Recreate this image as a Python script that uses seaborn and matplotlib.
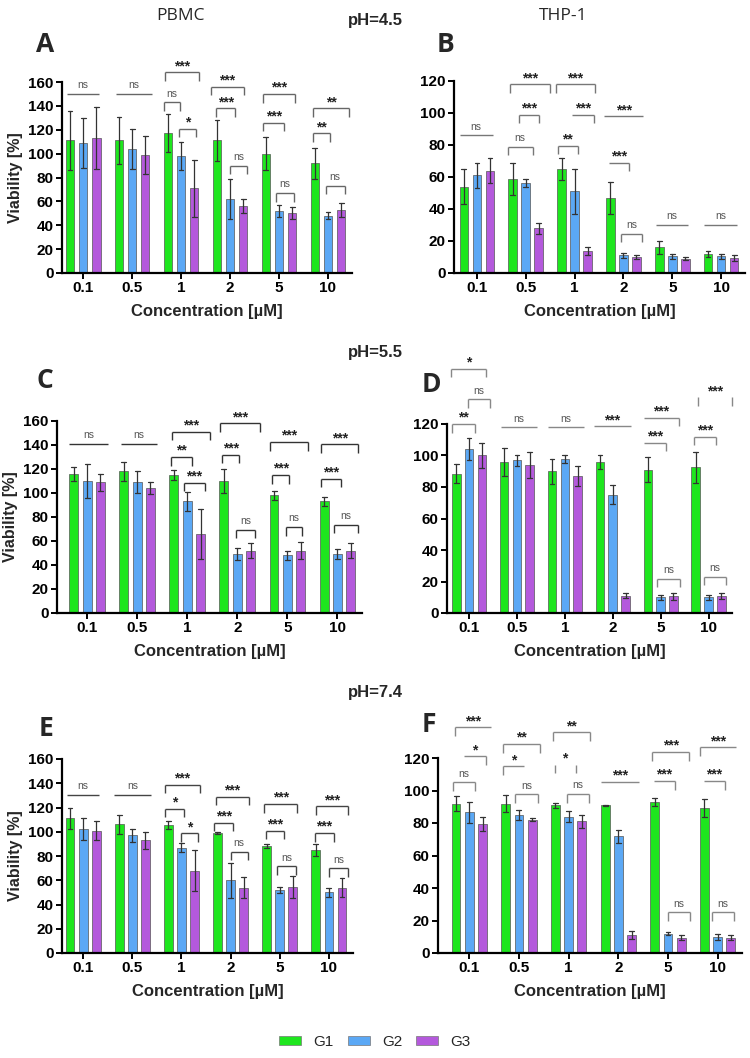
import numpy as np
import pandas as pd
import matplotlib
matplotlib.use('Agg')
import matplotlib.pyplot as plt
from matplotlib.patches import Patch
import seaborn as sns

# ================= 配置 =================
sns.set_style("ticks")
plt.rcParams['font.family'] = ['Liberation Sans', 'DejaVu Sans']
plt.rcParams['axes.unicode_minus'] = False

W, H = 750, 1058

conc_labels = ['0.1', '0.5', '1', '2', '5', '10']
groups = ['G1', 'G2', 'G3']
group_colors = ['#1EE61E', '#5BA8F5', '#B459DC']

# ================= 数据 (mean / SD) =================
# A: PBMC pH=4.5
A_g1 = [111, 111, 117, 111, 100, 92]
A_g1_sd = [25, 20, 16, 17, 14, 13]
A_g2 = [109, 104, 98, 62, 52, 48]
A_g2_sd = [21, 17, 12, 17, 5, 3]
A_g3 = [113, 99, 71, 56, 50, 53]
A_g3_sd = [26, 16, 24, 6, 5, 6]

# B: THP-1 pH=4.5
B_g1 = [54, 59, 65, 47, 16, 12]
B_g1_sd = [11, 10, 7, 10, 4, 2]
B_g2 = [61, 56, 51, 11, 10.5, 10.5]
B_g2_sd = [8, 2.5, 14, 1.5, 1.5, 1.5]
B_g3 = [64, 28, 13.5, 10, 9, 9.5]
B_g3_sd = [8, 3.5, 2.5, 1.5, 1, 2]

# C: PBMC pH=5.5
C_g1 = [116, 118, 115, 110, 98, 93]
C_g1_sd = [6, 8, 4, 10, 4, 4]
C_g2 = [110, 109, 93, 49, 48, 49]
C_g2_sd = [14, 9, 8, 5, 4, 4]
C_g3 = [109, 104, 66, 52, 52, 52]
C_g3_sd = [7, 5, 21, 6, 7, 6]

# D: THP-1 pH=5.5
D_g1 = [88.5, 96, 90, 96, 91, 92.5]
D_g1_sd = [6, 9, 8, 4.5, 8, 10]
D_g2 = [104, 97, 97.5, 75, 10, 10]
D_g2_sd = [7, 3.5, 2.5, 6, 1.5, 1.5]
D_g3 = [100, 94, 87, 11, 10.5, 11]
D_g3_sd = [8, 8, 6.5, 1.5, 2, 2]

# E: PBMC pH=7.4
E_g1 = [111, 106, 105.5, 99, 88.5, 85]
E_g1_sd = [9, 8, 3, 0.5, 1.5, 5]
E_g2 = [102, 97, 87, 60, 52, 50]
E_g2_sd = [9, 5.5, 4, 14.5, 2.5, 4]
E_g3 = [101, 93, 68, 54, 54.5, 54]
E_g3_sd = [8, 7, 17, 9, 9, 7.5]

# F: THP-1 pH=7.4
F_g1 = [92, 92, 91, 91, 93, 89]
F_g1_sd = [4.5, 5.5, 1.5, 0.3, 2.5, 5.5]
F_g2 = [86.5, 85, 84, 72, 12, 10]
F_g2_sd = [6.5, 3, 3.5, 4, 1, 2]
F_g3 = [79.5, 82, 81, 11, 9.5, 9.5]
F_g3_sd = [4.5, 1, 4, 2.5, 1.5, 1.5]

# 显著性标注: (类别序号, 左偏移, 右偏移, 高度, 文本, 形状)
# 形状: b=两端竖线, l=左竖线, r=右竖线, f=平线, t=仅竖线
A_sig = [
    (0, -0.32, 0.32, 150, 'ns', 'f'),
    (1, -0.33, 0.41, 150, 'ns', 'f'),
    (2, -0.33, 0.36, 168, '***', 'b'),
    (2, -0.35, -0.03, 143, 'ns', 'b'),
    (2, -0.05, 0.31, 121, '*', 'b'),
    (3, -0.39, 0.28, 156, '***', 'b'),
    (3, -0.29, 0.11, 138, '***', 'b'),
    (3, 0.0, 0.34, 90, 'ns', 'b'),
    (4, -0.32, 0.33, 150, '***', 'b'),
    (4, -0.32, 0.10, 126, '***', 'b'),
    (4, -0.07, 0.31, 67, 'ns', 'b'),
    (5, -0.31, 0.43, 138, '**', 'b'),
    (5, -0.31, 0.05, 117, '**', 'b'),
    (5, -0.05, 0.34, 73, 'ns', 'b'),
]
B_sig = [
    (0, -0.35, 0.32, 86, 'ns', 'f'),
    (1, -0.33, 0.50, 118, '***', 'b'),
    (1, -0.14, 0.27, 99, '***', 'b'),
    (1, -0.37, 0.14, 79, 'ns', 'b'),
    (2, -0.39, 0.42, 118, '***', 'b'),
    (2, -0.05, 0.39, 99, '***', 'r'),
    (2, -0.35, 0.07, 79.5, '**', 'b'),
    (3, -0.39, 0.41, 98, '***', 'f'),
    (3, -0.29, 0.12, 69, '***', 'r'),
    (3, -0.05, 0.39, 24.6, 'ns', 'b'),
    (4, -0.34, 0.33, 30, 'ns', 'f'),
    (5, -0.34, 0.33, 30, 'ns', 'f'),
]
C_sig = [
    (0, -0.37, 0.42, 141, 'ns', 'f'),
    (1, -0.32, 0.40, 141, 'ns', 'f'),
    (2, -0.30, 0.45, 151, '***', 'b'),
    (2, -0.32, 0.10, 130, '**', 'b'),
    (2, -0.07, 0.35, 108.6, '***', 'b'),
    (3, -0.35, 0.45, 158, '***', 'b'),
    (3, -0.30, 0.04, 132, '***', 'b'),
    (3, -0.03, 0.35, 69.4, 'ns', 'b'),
    (4, -0.35, 0.41, 142.5, '***', 'b'),
    (4, -0.31, 0.04, 115, '***', 'b'),
    (4, -0.03, 0.30, 71.7, 'ns', 'b'),
    (5, -0.32, 0.41, 140.5, '***', 'b'),
    (5, -0.32, 0.08, 112, '***', 'b'),
    (5, -0.07, 0.41, 73.6, 'ns', 'b'),
]
D_sig = [
    (0, -0.38, 0.35, 155, '*', 'b'),
    (0, -0.03, 0.44, 135.6, 'ns', 'b'),
    (0, -0.35, 0.12, 120, '**', 'b'),
    (1, -0.33, 0.42, 118, 'ns', 'f'),
    (2, -0.35, 0.40, 118, 'ns', 'f'),
    (3, -0.40, 0.38, 118.6, '***', 'f'),
    (4, -0.35, 0.38, 124, '***', 'r'),
    (4, -0.35, 0.12, 108, '***', 'r'),
    (4, -0.07, 0.40, 21.8, 'ns', 'b'),
    (5, -0.23, 0.50, 137, '***', 't'),
    (5, -0.30, 0.15, 112, '***', 'b'),
    (5, -0.10, 0.36, 22.9, 'ns', 'b'),
]
E_sig = [
    (0, -0.32, 0.32, 130.5, 'ns', 'f'),
    (1, -0.37, 0.38, 130.5, 'ns', 'f'),
    (2, -0.33, 0.37, 138.8, '***', 'b'),
    (2, -0.34, 0.05, 119, '*', 'b'),
    (2, -0.01, 0.33, 98.8, '*', 'b'),
    (3, -0.30, 0.37, 129, '***', 'b'),
    (3, -0.33, 0.05, 107.6, '***', 'b'),
    (3, 0.0, 0.35, 83.6, 'ns', 'b'),
    (4, -0.32, 0.36, 123, '***', 'b'),
    (4, -0.29, 0.08, 101, '***', 'b'),
    (4, -0.05, 0.34, 71.7, 'ns', 'b'),
    (5, -0.27, 0.39, 121, '***', 'b'),
    (5, -0.29, 0.10, 99, '***', 'b'),
    (5, 0.01, 0.39, 70, 'ns', 'b'),
]
F_sig = [
    (0, -0.29, 0.44, 139, '***', 'l'),
    (0, -0.11, 0.33, 121, '*', 'r'),
    (0, -0.32, 0.11, 105, 'ns', 'b'),
    (1, -0.32, 0.42, 128.6, '**', 'b'),
    (1, -0.32, 0.10, 115, '*', 'l'),
    (1, -0.07, 0.39, 97.7, 'ns', 'b'),
    (2, -0.31, 0.42, 135.8, '**', 'b'),
    (2, -0.28, 0.14, 116, '*', 't'),
    (2, -0.04, 0.41, 98, 'ns', 'b'),
    (3, -0.34, 0.42, 105.5, '***', 'f'),
    (4, -0.32, 0.43, 123.7, '***', 'b'),
    (4, -0.28, 0.14, 106, '***', 'r'),
    (4, 0.0, 0.44, 25, 'ns', 'b'),
    (5, -0.36, 0.36, 126.5, '***', 'l'),
    (5, -0.27, 0.14, 106, '***', 'r'),
    (5, -0.12, 0.32, 25, 'ns', 'b'),
]


def build_df(means, sds):
    # 每根柱子放 mean-SD 与 mean+SD 两个点, 均值即柱高, 极差即误差线
    rows = []
    for g, m_arr, s_arr in zip(groups, means, sds):
        for c, m, s in zip(conc_labels, m_arr, s_arr):
            rows.append((c, g, m - s))
            rows.append((c, g, m + s))
    return pd.DataFrame(rows, columns=['conc', 'group', 'val'])


def px_rect(l, t, r, b):
    return [l / W, 1 - b / H, (r - l) / W, (b - t) / H]


def draw_sig(ax, sig, ymax, line_col):
    h = 0.045 * ymax
    for cat, x1, x2, y, txt, kind in sig:
        xa, xb = cat + x1, cat + x2
        kw = dict(color=line_col, lw=1.0, clip_on=False, solid_capstyle='butt')
        if kind != 't':
            ax.plot([xa, xb], [y, y], **kw)
        if kind in ('b', 'l', 't'):
            ax.plot([xa, xa], [y, y - h], **kw)
        if kind in ('b', 'r', 't'):
            ax.plot([xb, xb], [y, y - h], **kw)
        if txt == 'ns':
            ax.annotate(txt, ((xa + xb) / 2, y), xytext=(0, 4), textcoords='offset points',
                        ha='center', va='baseline', fontsize=7.5, color='#555', annotation_clip=False)
        else:
            ax.annotate(txt, ((xa + xb) / 2, y), xytext=(0, 1.5), textcoords='offset points',
                        ha='center', va='baseline', fontsize=10, fontweight='bold', color='#222',
                        annotation_clip=False)


def add_panel(rect, means, sds, sig, ymax, xleft, ylabel, line_col):
    ax = fig.add_axes(px_rect(*rect))
    df = build_df(means, sds)
    sns.barplot(data=df, x='conc', y='val', hue='group', order=conc_labels, hue_order=groups,
                palette=group_colors, estimator='mean', errorbar=lambda v: (v.min(), v.max()),
                width=0.8, gap=0.33, capsize=0.3,
                err_kws={'color': '#333', 'linewidth': 0.9},
                edgecolor='#555', linewidth=0.5, saturation=1, legend=False, ax=ax)
    ax.set_ylim(0, ymax)
    ax.set_xlim(xleft, 5.49)
    ax.set_yticks(np.arange(0, ymax + 1, 20))
    sns.despine(ax=ax)
    for s in ('left', 'bottom'):
        ax.spines[s].set_linewidth(1.6)
        ax.spines[s].set_color('black')
    ax.tick_params(axis='both', length=4, width=1.4, labelsize=11, pad=2, colors='black')
    for lbl in ax.get_xticklabels() + ax.get_yticklabels():
        lbl.set_fontweight('bold')
    ax.set_xlabel('Concentration [µM]', fontsize=12, fontweight='bold', labelpad=6)
    if ylabel:
        ax.set_ylabel('Viability [%]', fontsize=11.5, fontweight='bold', labelpad=4)
    else:
        ax.set_ylabel('')
    draw_sig(ax, sig, ymax, line_col)
    return ax


fig = plt.figure(figsize=(W / 100, H / 100), dpi=100)

add_panel((62, 82, 352, 273), [A_g1, A_g2, A_g3], [A_g1_sd, A_g2_sd, A_g3_sd], A_sig, 160, -0.43, True, '#666')
add_panel((454, 81, 745, 273), [B_g1, B_g2, B_g3], [B_g1_sd, B_g2_sd, B_g3_sd], B_sig, 120, -0.47, False, '#777')
add_panel((57, 421, 362, 613), [C_g1, C_g2, C_g3], [C_g1_sd, C_g2_sd, C_g3_sd], C_sig, 160, -0.6, True, '#333')
add_panel((447, 424, 732, 613), [D_g1, D_g2, D_g3], [D_g1_sd, D_g2_sd, D_g3_sd], D_sig, 120, -0.46, False, '#888')
add_panel((62, 759, 353, 953), [E_g1, E_g2, E_g3], [E_g1_sd, E_g2_sd, E_g3_sd], E_sig, 160, -0.43, True, '#444')
add_panel((438, 758, 742, 953), [F_g1, F_g2, F_g3], [F_g1_sd, F_g2_sd, F_g3_sd], F_sig, 120, -0.63, False, '#888')

# ================= 文字 =================
def ftext(x, y, s, **kw):
    fig.text(x / W, 1 - y / H, s, ha='center', va='center', **kw)


ftext(180, 16, 'PBMC', fontsize=12.5, family=['Open Sans', 'DejaVu Sans'])
ftext(563, 16, 'THP-1', fontsize=12.5, family=['Open Sans', 'DejaVu Sans'])
ftext(375, 20, 'pH=4.5', fontsize=12, fontweight='bold')
ftext(375, 352, 'pH=5.5', fontsize=12, fontweight='bold')
ftext(375, 692, 'pH=7.4', fontsize=12, fontweight='bold')

for x, y, s in [(45, 44, 'A'), (445, 45, 'B'), (45, 380, 'C'), (431, 385, 'D'), (46, 728, 'E'), (429, 725, 'F')]:
    ftext(x, y, s, fontsize=19, fontweight='bold', family=['Open Sans', 'DejaVu Sans'])

handles = [Patch(facecolor=c, edgecolor='#777', linewidth=0.5, label=g) for g, c in zip(groups, group_colors)]
fig.legend(handles=handles, loc='center', bbox_to_anchor=(0.5, 1 - 1042 / H), ncol=3, frameon=False,
           fontsize=11, handlelength=1.45, handleheight=0.6, handletextpad=0.8, columnspacing=0.9)

fig.savefig('out.png', dpi=100)
